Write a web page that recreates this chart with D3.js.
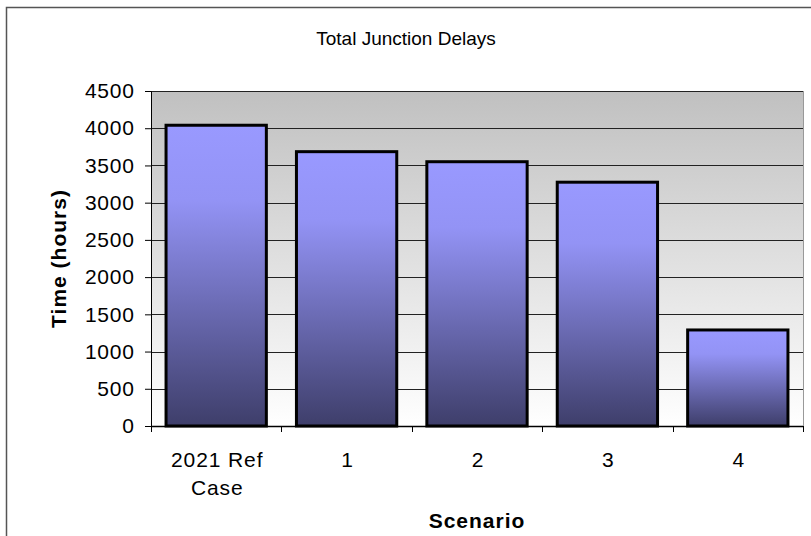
<!DOCTYPE html>
<html><head><meta charset="utf-8">
<script src="https://cdn.jsdelivr.net/npm/d3@7"></script>
<style>html,body{margin:0;padding:0;background:#fff;}svg{display:block;}</style>
</head><body>
<script>
const categories = [["2021 Ref","Case"],["1"],["2"],["3"],["4"]];
const values = [4040, 3685, 3550, 3275, 1290];
const yTicks = [0,500,1000,1500,2000,2500,3000,3500,4000,4500];
const title = "Total Junction Delays";
const xTitle = "Scenario";
const yTitle = "Time (hours)";

const W = 811, H = 536;
const FONT = "Liberation Sans, Arial, sans-serif";
const m = {left:151, right:803, top:91, bottom:426};
const svg = d3.select("body").append("svg").attr("width",W).attr("height",H);
const defs = svg.append("defs");
const bg = defs.append("linearGradient").attr("id","bg").attr("x1",0).attr("y1",0).attr("x2",0).attr("y2",1);
bg.append("stop").attr("offset","0%").attr("stop-color","#c0c0c0");
bg.append("stop").attr("offset","100%").attr("stop-color","#ffffff");
const bar = defs.append("linearGradient").attr("id","bar").attr("x1",0).attr("y1",0).attr("x2",0).attr("y2",1);
bar.append("stop").attr("offset","0%").attr("stop-color","#9999ff");
bar.append("stop").attr("offset","25%").attr("stop-color","#9393f5");
bar.append("stop").attr("offset","100%").attr("stop-color","#3e3e6a");

// outer chart border
svg.append("rect").attr("x",6.5).attr("y",7.5).attr("width",W+10).attr("height",H+10)
  .attr("fill","none").attr("stroke","#555").attr("stroke-width",1.5);

const x = d3.scaleBand().domain(d3.range(values.length)).range([m.left,m.right])
  .paddingInner(0.3/1.3).paddingOuter(0.15/1.3);
const y = d3.scaleLinear().domain([0,4500]).range([m.bottom,m.top]);

svg.append("rect").attr("x",m.left).attr("y",m.top).attr("width",m.right-m.left).attr("height",m.bottom-m.top)
  .attr("fill","url(#bg)");
svg.append("line").attr("x1",m.right+0.5).attr("x2",m.right+0.5).attr("y1",m.top).attr("y2",m.bottom)
  .attr("stroke","#999").attr("stroke-width",1);

// gridlines
svg.append("g").selectAll("line").data(yTicks.filter(d=>d>0)).join("line")
  .attr("x1",m.left).attr("x2",m.right).attr("y1",d=>Math.round(y(d))+0.5).attr("y2",d=>Math.round(y(d))+0.5)
  .attr("stroke","#222").attr("stroke-width",1);

// bars
svg.append("g").selectAll("rect").data(values).join("rect")
  .attr("x",(d,i)=>x(i)).attr("width",x.bandwidth())
  .attr("y",d=>y(d)).attr("height",d=>y(0)-y(d))
  .attr("fill","url(#bar)").attr("stroke","#000").attr("stroke-width",3);

// y axis
const yAxis = svg.append("g").attr("transform",`translate(${m.left},0)`)
  .call(d3.axisLeft(y).tickValues(yTicks).tickSize(6).tickPadding(11).tickFormat(d3.format("d")));
yAxis.select(".domain").attr("stroke","#000");
yAxis.selectAll(".tick line").attr("stroke","#000");
yAxis.selectAll("text").attr("font-family",FONT).attr("font-size",21).attr("letter-spacing",0.8)
  .attr("dx",0.8).attr("fill","#000");

// x axis
const xb = d3.scaleLinear().domain([0,values.length]).range([m.left,m.right]);
const xAxis = svg.append("g").attr("transform",`translate(0,${m.bottom})`);
xAxis.append("line").attr("x1",m.left).attr("x2",m.right).attr("y1",0.5).attr("y2",0.5).attr("stroke","#000").attr("stroke-width",1.5);
xAxis.selectAll("line.t").data(d3.range(values.length+1)).join("line").attr("class","t")
  .attr("x1",d=>Math.round(xb(d))+0.5).attr("x2",d=>Math.round(xb(d))+0.5).attr("y1",0).attr("y2",6).attr("stroke","#000");
const labels = xAxis.selectAll("text").data(categories).join("text")
  .attr("x",(d,i)=>x(i)+x.bandwidth()/2+1).attr("y",41)
  .attr("text-anchor","middle").attr("font-family",FONT).attr("font-size",21).attr("letter-spacing",0.9).attr("fill","#000");
labels.each(function(d){
  const t = d3.select(this);
  d.forEach((s,k)=>t.append("tspan").attr("x",t.attr("x")).attr("dy",k===0?0:28).text(s));
});

// titles
svg.append("text").attr("x",406).attr("y",45).attr("text-anchor","middle")
  .attr("font-family",FONT).attr("font-size",19).text(title);
svg.append("text").attr("x",(m.left+m.right)/2).attr("y",528).attr("text-anchor","middle")
  .attr("font-family",FONT).attr("font-size",21).attr("font-weight","bold").attr("letter-spacing",1).text(xTitle);
svg.append("text").attr("transform",`translate(66,${(m.top+m.bottom)/2}) rotate(-90)`).attr("text-anchor","middle")
  .attr("font-family",FONT).attr("font-size",21).attr("font-weight","bold").attr("letter-spacing",1).text(yTitle);
</script>
</body></html>
